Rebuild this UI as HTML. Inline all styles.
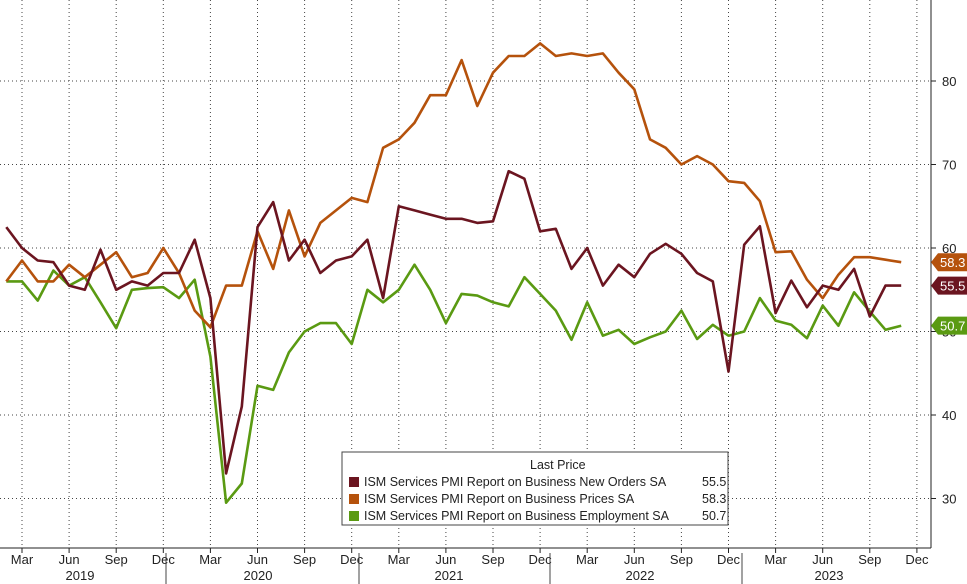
<!DOCTYPE html>
<html><head><meta charset="utf-8"><style>
body{margin:0;background:#fff;}
svg{display:block;font-family:"Liberation Sans",sans-serif;}
</style></head><body>
<svg id="c" width="967" height="584" viewBox="0 0 967 584" xmlns="http://www.w3.org/2000/svg">
<rect width="967" height="584" fill="#fff"/>
<g id="grid" stroke="#444" stroke-width="1" stroke-dasharray="1,3"></g>
<line x1="931" y1="0" x2="931" y2="548" stroke="#222" stroke-width="1"/>
<line x1="0" y1="548" x2="931" y2="548" stroke="#222" stroke-width="1"/>
<g id="axis" font-size="13" fill="#222"></g>
<g id="lines" fill="none" stroke-width="2.6" stroke-linejoin="round"></g>
<rect x="342" y="452" width="386" height="73" fill="#fff" stroke="#444" stroke-width="1"/>
<text x="530" y="469" font-size="12.5" fill="#222">Last Price</text>
<rect x="349" y="477" width="10" height="10" fill="#6b1520"/>
<rect x="349" y="494" width="10" height="10" fill="#b5520c"/>
<rect x="349" y="511" width="10" height="10" fill="#5a9a12"/>
<text x="364" y="486" font-size="12.5" fill="#222">ISM Services PMI Report on Business New Orders SA</text>
<text x="702" y="486" font-size="12.5" fill="#222">55.5</text>
<text x="364" y="503" font-size="12.5" fill="#222">ISM Services PMI Report on Business Prices SA</text>
<text x="702" y="503" font-size="12.5" fill="#222">58.3</text>
<text x="364" y="520" font-size="12.5" fill="#222">ISM Services PMI Report on Business Employment SA</text>
<text x="702" y="520" font-size="12.5" fill="#222">50.7</text>
<g id="tags" font-size="13"></g>
</svg>
<script>
var NS="http://www.w3.org/2000/svg";
function el(p,t,a,txt){var e=document.createElementNS(NS,t);for(var k in a)e.setAttribute(k,a[k]);if(txt)e.textContent=txt;p.appendChild(e);return e;}
function Y(v){return 81+(80-v)*8.35;}
function X(m){return 22+m*15.7;}
var g=document.getElementById('grid'),ax=document.getElementById('axis');
for(var v=30;v<=80;v+=10){el(g,'line',{x1:0,y1:Y(v),x2:931,y2:Y(v)});
 el(ax,'text',{x:942,y:Y(v)+5},String(v));el(ax,'line',{x1:931,y1:Y(v),x2:936,y2:Y(v),stroke:'#222'});}
var mons=['Mar','Jun','Sep','Dec'];
for(var q=0;q<20;q++){var x=X(q*3);el(g,'line',{x1:x,y1:0,x2:x,y2:548});
 el(ax,'line',{x1:x,y1:548,x2:x,y2:553,stroke:'#222'});
 el(ax,'text',{x:x,y:564,'text-anchor':'middle'},mons[q%4]);}
var yrs=[['2019',80],['2020',258],['2021',449],['2022',640],['2023',829]];
yrs.forEach(function(y){el(ax,'text',{x:y[1],y:580,'text-anchor':'middle'},y[0]);});
[166,359,550,742].forEach(function(x){el(ax,'line',{x1:x,y1:553,x2:x,y2:584,stroke:'#444'});});
var no=[62.5,60,58.5,58.3,55.5,55,59.8,55,56,55.5,57, 57,61,54,33,41,62.5,65.5,58.5,61,57,58.5,59, 61,54,65,64.5,64,63.5,63.5,63,63.2,69.2,68.3,62, 62.3,57.5,60,55.5,58,56.5,59.3,60.5,59.3,57,56,45.2, 60.4,62.6,52.2,56.1,52.9,55.5,55,57.5,51.8,55.5,55.5];
var pr=[56,58.5,56,56,58,56.5,58,59.5,56.5,57,60, 57,52.5,50.5,55.5,55.5,62,57.5,64.5,59,63,64.5,66, 65.5,72,73,75,78.3,78.3,82.5,77,81,83,83,84.5, 83,83.3,83,83.3,81,79,73,72,70,71,70,68, 67.8,65.6,59.5,59.6,56.2,54,56.8,58.9,58.9,58.6,58.3];
var em=[56,56,53.7,57.3,55.5,56.5,53.5,50.4,55,55.2,55.3, 54,56.2,47,29.5,31.8,43.5,43,47.5,50,51,51,48.5, 55,53.5,55,58,55,51,54.5,54.3,53.5,53,56.5,54.5, 52.5,49,53.5,49.5,50.2,48.5,49.3,50,52.5,49.1,50.8,49.5, 50,54,51.3,50.8,49.2,53.1,50.7,54.7,52.4,50.2,50.7];
var L=document.getElementById('lines');
function path(d,c){var s='';d.forEach(function(v,i){s+=(i?'L':'M')+X(i-1).toFixed(1)+','+Y(v).toFixed(1);});el(L,'path',{d:s,stroke:c});}
path(em,'#5a9a12');path(pr,'#b5520c');path(no,'#6b1520');
var T=document.getElementById('tags');
function tag(v,c){var y=Y(v);el(T,'path',{d:'M931,'+y+' L938,'+(y-9)+' L967,'+(y-9)+' L967,'+(y+9)+' L938,'+(y+9)+'Z',fill:c});
 el(T,'text',{x:940,y:y+5,fill:'#fff'},v.toFixed(1));}
tag(58.3,'#b5520c');tag(55.5,'#6b1520');tag(50.7,'#5a9a12');
</script>
</body></html>
